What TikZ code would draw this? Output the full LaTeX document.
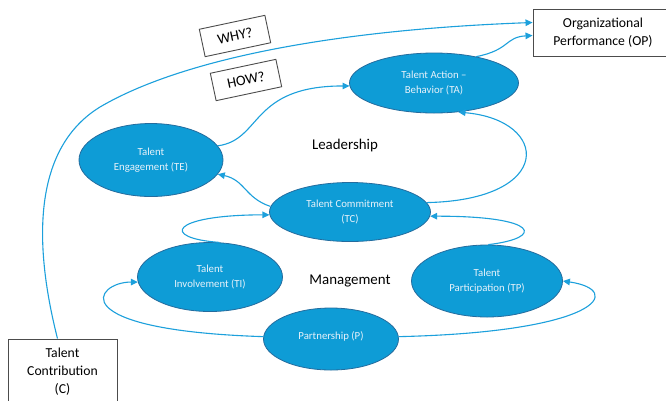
\documentclass[tikz,border=0pt]{standalone}
\usepackage{fontspec}
\setmainfont{Carlito}
\usetikzlibrary{arrows.meta,shapes.geometric}
\definecolor{ovalblue}{RGB}{14,156,214}
\definecolor{ovalrim}{RGB}{36,108,158}
\definecolor{linkblue}{RGB}{28,160,220}
\definecolor{ovaltext}{RGB}{232,242,250}
\tikzset{oval/.style={ellipse, draw=ovalrim, fill=ovalblue, line width=0.8pt, inner sep=0pt, align=center, text=ovaltext, font=\fontsize{10.8}{15}\selectfont}, textbox/.style={rectangle, draw=black!70, line width=0.9pt, align=center, font=\fontsize{13.7}{18}\selectfont}, askbox/.style={textbox, rotate=12, minimum width=67pt, minimum height=28pt, font=\fontsize{14.5}{18}\selectfont}, zone/.style={font=\fontsize{14.9}{18}\selectfont}, link/.style={draw=linkblue, line width=1.1pt, -{Triangle[length=7pt,width=6.5pt]}}}
\begin{document}
\begin{tikzpicture}[x=1pt,y=-1pt]
    \useasboundingbox[fill=white] (0,0) rectangle (666,400);
    \node[oval, minimum width=169pt, minimum height=60pt] (TA) at (434,83) {Talent Action –\\Behavior (TA)};
    \node[oval, minimum width=144pt, minimum height=73pt] (TE) at (151,160) {Talent\\Engagement (TE)};
    \node[oval, minimum width=161pt, minimum height=59pt] (TC) at (350,212) {Talent Commitment\\(TC)};
    \node[oval, minimum width=145pt, minimum height=69pt] (TI) at (210,277) {Talent\\Involvement (TI)};
    \node[oval, minimum width=151pt, minimum height=72pt] (TP) at (487,281) {Talent\\Participation (TP)};
    \node[oval, minimum width=135pt, minimum height=62pt] (P) at (331,339) {\raisebox{6pt}{Partnership (P)}};
    \node[textbox, minimum width=140pt, minimum height=47pt] (OP) at (603,32.5) {Organizational\\Performance (OP)};
    \node[textbox, minimum width=109pt, minimum height=66pt] (C) at (62.5,372) {Talent\\Contribution\\(C)};
    \node[askbox] (WHY) at (235,36) {WHY?};
    \node[askbox] (HOW) at (246,80) {HOW?};
    \node[zone] (lead) at (345,146) {Leadership};
    \node[zone] (mgmt) at (350,281) {Management};
    \draw[link] ([xshift=-5pt]C.north) .. controls (35,250) and (30,150) .. (100,107) .. controls (180,60) and (330,30) .. ([yshift=10pt]OP.west);
    \draw[link] (TE.12) .. controls (262,140) and (250,86) .. (TA.182);
    \draw[link] (TA.32) .. controls (510,50) and (505,37) .. ([yshift=-3pt]OP.west);
    \draw[link] (TC.7) .. controls (555,200) and (550,120) .. (TA.-50);
    \draw[link] (TC.176) .. controls (245,198) and (245,180) .. (TE.-12);
    \draw[link] (TI.75) .. controls (160,238) and (170,215) .. (TC.182);
    \draw[link] (TP.88) .. controls (545,238) and (540,216) .. (TC.-3);
    \draw[link] (P.178) .. controls (60,330) and (95,282) .. (TI.184);
    \draw[link] (P.2) .. controls (600,332) and (625,290) .. (TP.east);
\end{tikzpicture}
\end{document}
